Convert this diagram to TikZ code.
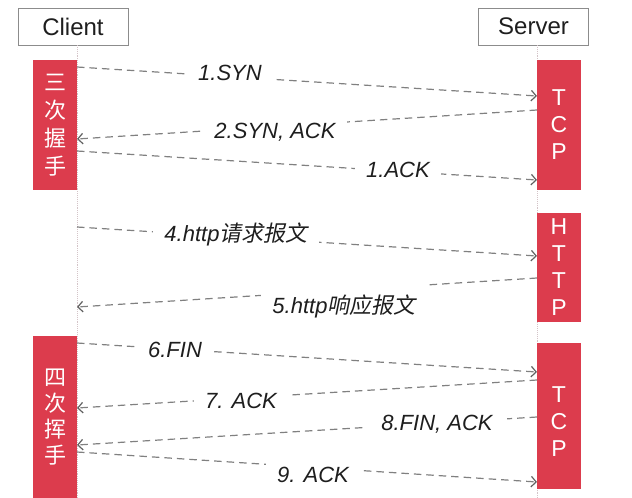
\documentclass[tikz,border=0pt]{standalone}
\usepackage{fontspec}
\setmainfont{Liberation Sans}
\newfontfamily\cjk{Noto Sans CJK SC}
\newfontfamily\cjki{Noto Sans CJK SC}[FakeSlant=0.2]
\usetikzlibrary{arrows.meta}
\definecolor{boxred}{RGB}{220,60,77}
\definecolor{msggray}{RGB}{128,128,128}
\definecolor{lifecol}{RGB}{212,196,200}
\definecolor{labtext}{RGB}{30,30,30}
\begin{document}
\begin{tikzpicture}[x=1pt,y=-1pt,
  actor/.style={draw=black!45, line width=0.8pt, minimum width=110pt, minimum height=37pt, inner sep=0pt, font=\fontsize{24}{28}\selectfont, text=labtext},
  phase/.style={fill=boxred, text=white, minimum width=44pt, inner sep=0pt, align=center},
  phasetext/.style={text=white, inner sep=0pt, align=center},
  lat/.style={font=\fontsize{23}{27}\selectfont},
  zh/.style={font=\cjk\fontsize{22}{28}\selectfont},
  zhb/.style={font=\cjk\fontsize{22}{26}\selectfont},
  msg/.style={draw=msggray, line width=1.2pt, dash pattern=on 7.5pt off 5pt, -{Straight Barb[length=5pt,width=10.5pt,color=black!62]}},
  lab/.style={fill=white, anchor=base, inner xsep=11pt, inner ysep=1pt, text height=28pt, text depth=7pt, font=\itshape\fontsize{22}{26}\selectfont, text=labtext},
  life/.style={draw=lifecol, line width=0.9pt, densely dotted}
]
\useasboundingbox (0,0) rectangle (632,498);
% actors
\node[actor] (client) at (73,26.5) {Client};
\node[actor] (server) at (533.5,26.5) {Server};
\coordinate (ctop) at (77,45);
\coordinate (cbot) at (77,498);
\coordinate (stop) at (537,45);
\coordinate (sbot) at (537,498);
\draw[life] (ctop) -- (cbot);
\draw[life] (stop) -- (sbot);
% phase boxes
\node[phase, zh, minimum height=130pt] (hs) at (55,125) {三\\次\\握\\手};
\node[phase, lat, minimum height=130pt] (tcpa) at (559,125) {T\\C\\P};
\node[phase, lat, minimum height=109pt] (http) at (559,267.5) {H\\T\\T\\P};
\node[phase, minimum height=146pt] (tcpb) at (559,416) {};
\node[phasetext, lat] (tcpbt) at ([yshift=-6pt]tcpb.center) {T\\C\\P};
\node[phase, zhb, minimum height=162pt] (wave) at (55,417) {四\\次\\挥\\手};
% message end points
\coordinate (c1) at (77,67);   \coordinate (s1) at (537,96);
\coordinate (s2) at (537,110); \coordinate (c2) at (77,139);
\coordinate (c3) at (77,151);  \coordinate (s3) at (537,180);
\coordinate (c4) at (77,227);  \coordinate (s4) at (537,256);
\coordinate (s5) at (537,278); \coordinate (c5) at (77,307);
\coordinate (c6) at (77,343);  \coordinate (s6) at (537,372);
\coordinate (s7) at (537,380); \coordinate (c7) at (77,408);
\coordinate (s8) at (537,417); \coordinate (c8) at (77,445);
\coordinate (c9) at (77,452);  \coordinate (s9) at (537,482);
% messages
\draw[msg] (c1) -- (s1);
\draw[msg] (s2) -- (c2);
\draw[msg] (c3) -- (s3);
\draw[msg] (c4) -- (s4);
\draw[msg] (s5) -- (c5);
\draw[msg] (c6) -- (s6);
\draw[msg] (s7) -- (c7);
\draw[msg] (s8) -- (c8);
\draw[msg] (c9) -- (s9);
% labels
\node[lab] (l1) at (230,80) {1.SYN};
\node[lab] (l2) at (275,138) {2.SYN, ACK};
\node[lab] (l3) at (398,177) {1.ACK};
\node[lab] (l4) at (236,241) {4.http{\cjki 请求报文}};
\node[lab] (l5) at (344,313) {5.http{\cjki 响应报文}};
\node[lab] (l6) at (175,357) {6.FIN};
\node[lab] (l7) at (241,408) {7. ACK};
\node[lab, inner xsep=14pt] (l8) at (437,430) {8.FIN, ACK};
\node[lab] (l9) at (313,482) {9. ACK};
\end{tikzpicture}
\end{document}
